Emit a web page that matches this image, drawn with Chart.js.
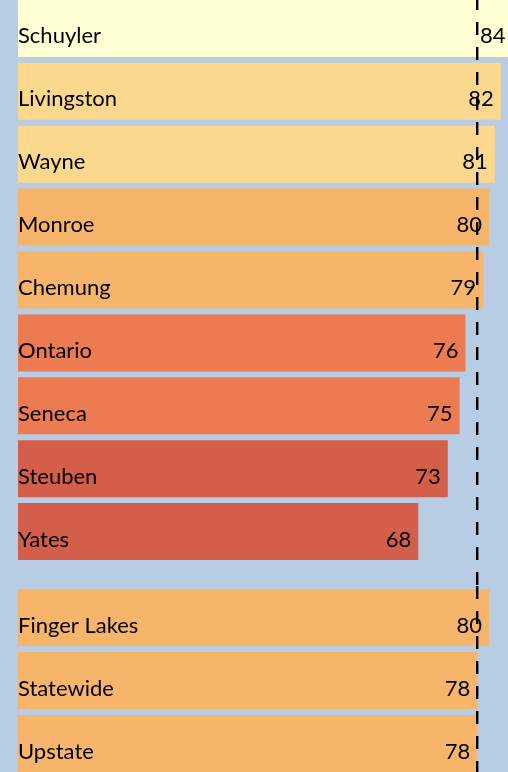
<!DOCTYPE html>
<html>
<head>
<meta charset="utf-8">
<script src="https://cdn.jsdelivr.net/npm/chart.js@4"></script>
<style>
  html, body { margin: 0; padding: 0; }
  body { width: 508px; height: 772px; overflow: hidden; background: #b8cce4; position: relative; }
  .wrap { position: absolute; left: 0; width: 508px; }
  #top { top: -3px; height: 593px; }
  #bottom { top: 586px; height: 189px; }
</style>
</head>
<body>
<div class="wrap" id="top"><canvas id="countyChart"></canvas></div>
<div class="wrap" id="bottom"><canvas id="regionChart"></canvas></div>
<script>
const counties = ["Schuyler", "Livingston", "Wayne", "Monroe", "Chemung", "Ontario", "Seneca", "Steuben", "Yates"];
const countyValues = [84, 82, 81, 80, 79, 76, 75, 73, 68];
const regions = ["Finger Lakes", "Statewide", "Upstate"];
const regionValues = [80, 78, 78];
const statewide = regionValues[1];

// colour bands by value
function colorFor(v) {
  if (v >= 83) return "#ffffd3";
  if (v >= 81) return "#fcd88e";
  if (v >= 77) return "#f7b46b";
  if (v >= 74) return "#ed7b51";
  return "#d35f4b";
}

const labelFont = "22px Lato";

const barLabels = {
  id: "barLabels",
  afterDatasetsDraw(chart) {
    const ctx = chart.ctx;
    const meta = chart.getDatasetMeta(0);
    ctx.save();
    ctx.font = labelFont;
    ctx.fillStyle = "#000";
    ctx.textBaseline = "alphabetic";
    meta.data.forEach((bar, i) => {
      ctx.textAlign = "left";
      ctx.fillText(chart.data.labels[i], chart.chartArea.left, bar.y + 15);
      ctx.textAlign = "right";
      ctx.fillText(chart.data.datasets[0].data[i], Math.min(bar.x, chart.width + 5) - 7, bar.y + 15);
    });
    ctx.restore();
  }
};

const refLine = {
  id: "refLine",
  afterDraw(chart) {
    const ctx = chart.ctx;
    const x = chart.scales.x.getPixelForValue(statewide);
    ctx.save();
    ctx.strokeStyle = "#000";
    ctx.lineWidth = 2.4;
    ctx.setLineDash([13, 12]);
    ctx.beginPath();
    ctx.moveTo(x, 0);
    ctx.lineTo(x, chart.height);
    ctx.stroke();
    ctx.restore();
  }
};

function makeChart(id, labels, values, padBottom) {
  return new Chart(document.getElementById(id), {
    type: "bar",
    data: {
      labels: labels,
      datasets: [{
        data: values,
        backgroundColor: values.map(colorFor),
        categoryPercentage: 1,
        barPercentage: 0.906
      }]
    },
    options: {
      indexAxis: "y",
      responsive: true,
      maintainAspectRatio: false,
      animation: false,
      layout: { padding: { left: 18, right: 0, top: 0, bottom: padBottom } },
      plugins: { legend: { display: false }, tooltip: { enabled: false } },
      scales: {
        x: { display: false, min: 0, max: 83.23 },
        y: { display: false }
      }
    },
    plugins: [barLabels, refLine]
  });
}

makeChart("countyChart", counties, countyValues, 27);
makeChart("regionChart", regions, regionValues, 0);
</script>
</body>
</html>
